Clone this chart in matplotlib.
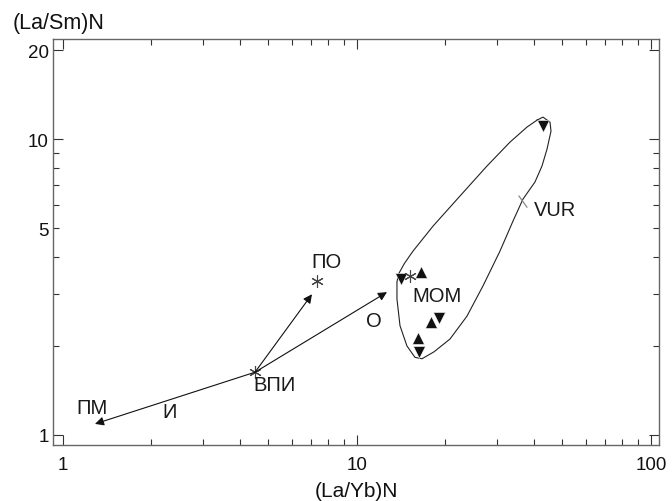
import numpy as np
import matplotlib.pyplot as plt
from matplotlib.ticker import FixedLocator, FixedFormatter, NullFormatter

plt.rcParams['font.family'] = ['Liberation Sans', 'DejaVu Sans']

''' data '''
# VPI (start point) and PO, MOM asterisks
star_x = [4.50, 7.31, 15.1]
star_y = [1.63, 3.31, 3.44]

# arrow tips from VPI
arrow_x = [1.285, 7.03, 12.65]
arrow_y = [1.09, 2.99, 3.04]

# samples
up_x = [16.5, 17.8, 16.1]
up_y = [3.55, 2.41, 2.13]
down_x = [14.1, 19.0, 16.3, 42.9]
down_y = [3.37, 2.48, 1.91, 11.1]

# VUR field outline
vur_x = [40.95, 42.92, 45.36, 45.71, 44.30, 42.59, 40.31, 36.70, 33.93, 30.64,
         26.83, 23.66, 20.72, 18.28, 16.64, 15.75, 14.79, 14.01, 13.68, 13.68,
         13.85, 14.50, 15.50, 18.14, 22.40, 27.68, 33.15, 37.86, 40.95]
vur_y = [11.59, 11.87, 11.41, 10.64, 9.25, 8.11, 7.16, 6.27, 5.28, 4.18,
         3.19, 2.52, 2.11, 1.91, 1.81, 1.83, 2.00, 2.34, 2.88, 3.29,
         3.50, 3.80, 4.18, 5.08, 6.42, 8.11, 9.77, 10.98, 11.59]

labels = ['ПМ', 'И', 'ВПИ', 'ПО', 'О', 'МОМ', 'VUR']
label_x = [1.255, 2.31, 5.26, 7.85, 11.42, 18.71, 47.1]
label_y = [1.243, 1.196, 1.476, 3.87, 2.43, 2.95, 5.80]

''' plot '''
fig = plt.figure(figsize=(6.72, 5.02), dpi=100)
ax = fig.add_axes([53/672, 56/502, 606/672, 406/502])
ax.set_xscale('log')
ax.set_yscale('log')
ax.set(xlim=(0.925, 106.5), ylim=(0.925, 21.8))

ax.plot(vur_x, vur_y, color='#222222', lw=0.8)
ax.plot([35.56, 37.86], [6.42, 5.89], color='#888888', lw=0.9)  # VUR leader

for tx, ty in zip(arrow_x, arrow_y):
    ax.annotate('', xy=(tx, ty), xytext=(star_x[0], star_y[0]),
                arrowprops=dict(arrowstyle='-|>', color='#111111', lw=0.8,
                                mutation_scale=13, shrinkA=0, shrinkB=0))

ax.plot(up_x, up_y, '^', color='#111111', ms=8.5, mec='white', mew=0.4)
ax.plot(down_x, down_y, 'v', color='#111111', ms=8.5, mec='white', mew=0.4)
ax.plot(star_x, star_y, ls='none', marker=(6, 2, 0), ms=9, color='#444444', mew=0.8)

for s, lx, ly in zip(labels, label_x, label_y):
    ax.text(lx, ly, s, fontsize=14.5, ha='center', va='center', color='#1a1a1a')

ax.xaxis.set_major_locator(FixedLocator([1, 10, 100]))
ax.xaxis.set_major_formatter(FixedFormatter(['1', '10', '100']))
ax.xaxis.set_minor_locator(FixedLocator([2, 3, 4, 5, 6, 7, 8, 9,
                                         20, 30, 40, 50, 60, 70, 80, 90]))
ax.xaxis.set_minor_formatter(NullFormatter())
ax.yaxis.set_major_locator(FixedLocator([1, 10, 20]))
ax.yaxis.set_major_formatter(FixedFormatter(['1', '10', '20']))
ax.yaxis.set_minor_locator(FixedLocator([2, 3, 4, 5, 6, 7, 8, 9]))
ax.yaxis.set_minor_formatter(FixedFormatter(['', '', '', '5', '', '', '', '']))

ax.tick_params(which='both', direction='in', top=True, right=True,
               labelsize=13.5, colors='#333333', labelcolor='#111111', width=0.8)
ax.tick_params(which='major', length=7.2)
ax.tick_params(which='minor', length=4.3)
ax.tick_params(axis='x', which='both', pad=8)
ax.tick_params(axis='y', which='both', pad=3)
for sp in ax.spines.values():
    sp.set_color('#666666')
    sp.set_linewidth(1.0)

ax.set_xlabel('(La/Yb)N', fontsize=15, color='#111111', labelpad=6)
fig.text(13/672, 1 - 24/502, '(La/Sm)N', fontsize=15.5, color='#111111',
         ha='left', va='center')

fig.savefig('out.png', dpi=100)
